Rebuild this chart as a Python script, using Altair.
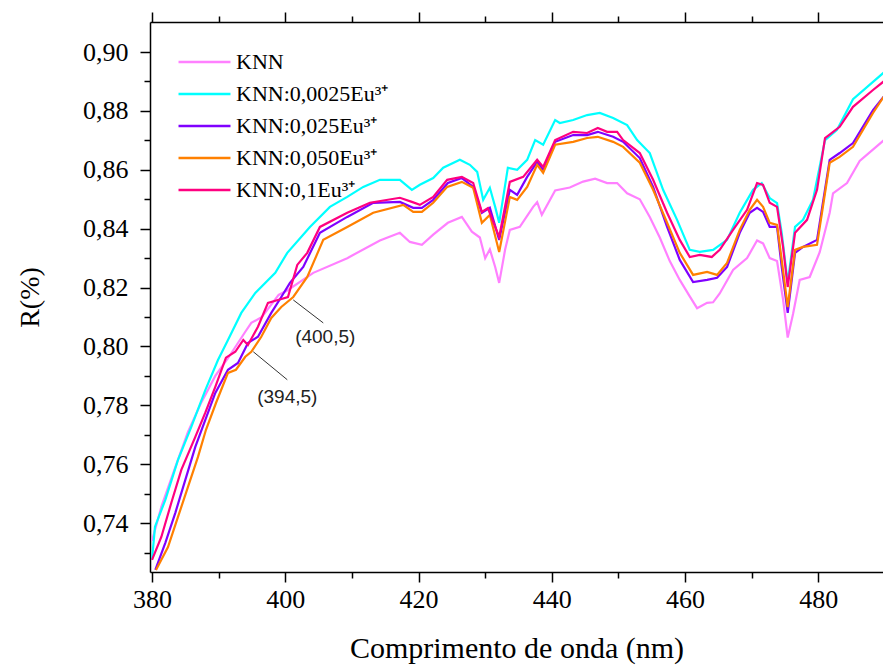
import altair as alt
import pandas as pd
import numpy as np

# ---------------- data ----------------
series_names = ["KNN", "KNN:0,0025Eu³⁺", "KNN:0,025Eu³⁺", "KNN:0,050Eu³⁺", "KNN:0,1Eu³⁺"]
series_colors = ["#FF80FF", "#00FFFF", "#8000FF", "#FF8000", "#FF0080"]

knn_nm = [380.0, 381.4, 383.5, 385.4, 387.4, 389.5, 391.4, 394.0, 394.9, 396.5, 399.0, 400.3, 404.2, 409.3,
          414.2, 417.2, 418.7, 420.5, 422.2, 424.4, 426.5, 428.0, 429.2, 430.0, 430.7, 431.5, 432.1, 433.0,
          433.7, 435.2, 437.2, 437.8, 438.5, 440.5, 442.7, 444.7, 446.5, 448.3, 449.8, 451.3, 453.2, 454.7,
          456.2, 457.7, 459.2, 460.7, 461.8, 463.3, 464.2, 465.2, 467.2, 469.3, 470.8, 471.7, 472.7, 473.8,
          474.7, 475.4, 476.2, 477.2, 478.7, 480.2, 481.7, 482.2, 484.3, 486.2, 489.8]
knn_r = [0.734, 0.7455, 0.759, 0.771, 0.781, 0.790, 0.796, 0.805, 0.808, 0.810, 0.8175, 0.819, 0.825, 0.830,
         0.836, 0.8386, 0.8355, 0.8345, 0.838, 0.842, 0.844, 0.839, 0.837, 0.830, 0.833, 0.827, 0.8216, 0.833,
         0.8396, 0.8406, 0.8474, 0.849, 0.8447, 0.853, 0.854, 0.856, 0.857, 0.8555, 0.8555, 0.852, 0.850, 0.844,
         0.837, 0.829, 0.8226, 0.817, 0.813, 0.8148, 0.815, 0.818, 0.826, 0.830, 0.836, 0.835, 0.830, 0.829,
         0.816, 0.803, 0.811, 0.8226, 0.8236, 0.832, 0.8454, 0.852, 0.8555, 0.863, 0.870]

eu0025_nm = [380.0, 380.45, 382.0, 383.9, 385.9, 388.0, 389.9, 391.4, 393.4, 395.5, 398.5, 400.3, 403.7, 406.7,
             409.3, 411.7, 414.2, 417.2, 419.0, 420.2, 422.2, 423.7, 426.2, 427.7, 428.8, 429.7, 430.7, 431.5,
             432.1, 433.4, 434.8, 436.3, 437.5, 438.7, 440.5, 441.2, 443.2, 445.3, 447.2, 449.2, 451.3, 452.8,
             454.7, 456.7, 458.8, 460.7, 462.2, 464.2, 466.3, 468.2, 470.2, 471.5, 472.7, 473.8, 474.5, 475.4,
             476.5, 477.7, 479.2, 481.0, 482.8, 485.2, 489.8]
eu0025_r = [0.7275, 0.7388, 0.7479, 0.7615, 0.7727, 0.7852, 0.7954, 0.8022, 0.8114, 0.8182, 0.8250, 0.8318,
            0.8406, 0.8474, 0.8508, 0.8542, 0.8566, 0.8566, 0.8532, 0.8549, 0.8572, 0.8607, 0.8634, 0.8617,
            0.8593, 0.8498, 0.8539, 0.8474, 0.8420, 0.8607, 0.8600, 0.8634, 0.8701, 0.8685, 0.8769, 0.8759,
            0.8769, 0.8786, 0.8793, 0.8776, 0.8752, 0.8701, 0.8657, 0.8532, 0.8430, 0.8328, 0.8321, 0.8328,
            0.8362, 0.8454, 0.8532, 0.8555, 0.8504, 0.8487, 0.8386, 0.8216, 0.8406, 0.8430, 0.8498, 0.8701,
            0.8736, 0.8840, 0.893]

eu025_nm = [380.5, 382.0, 383.5, 385.0, 386.5, 388.0, 389.5, 391.4, 392.9, 394.4, 395.9, 397.9, 399.4, 400.7,
            402.7, 405.2, 409.3, 413.2, 417.2, 419.2, 420.5, 422.2, 424.4, 426.5, 428.2, 429.5, 430.7, 432.1,
            433.7, 434.8, 436.3, 437.8, 438.7, 440.5, 443.2, 445.3, 446.9, 449.2, 450.7, 453.2, 455.2, 457.3,
            459.2, 461.2, 463.3, 464.8, 466.3, 468.2, 469.7, 470.8, 471.7, 472.7, 473.8, 474.5, 475.4, 476.5,
            477.7, 479.8, 481.7, 483.2, 485.2, 488.2, 489.8]
eu025_r = [0.7241, 0.7333, 0.7435, 0.7547, 0.7659, 0.7751, 0.7842, 0.7921, 0.7944, 0.8012, 0.8033, 0.8114,
           0.8168, 0.8216, 0.8270, 0.8386, 0.8440, 0.8488, 0.8491, 0.8471, 0.8471, 0.8498, 0.8555, 0.8572,
           0.8542, 0.8454, 0.8471, 0.8362, 0.8532, 0.8515, 0.8576, 0.8627, 0.8600, 0.8695, 0.8718, 0.8718,
           0.8729, 0.8712, 0.8695, 0.8640, 0.8542, 0.8406, 0.8294, 0.8219, 0.8226, 0.8233, 0.8270, 0.8386,
           0.8454, 0.8471, 0.8457, 0.8406, 0.8406, 0.8270, 0.8114, 0.8318, 0.8338, 0.8362, 0.8634, 0.8657,
           0.8691, 0.8803, 0.8848]

eu050_nm = [380.6, 382.4, 383.9, 385.4, 386.9, 388.1, 389.6, 391.4, 392.6, 394.0, 394.9, 396.4, 397.9, 399.4,
            401.2, 403.3, 405.7, 409.3, 413.2, 417.7, 419.2, 420.5, 422.2, 424.3, 426.5, 428.2, 429.5, 430.7,
            432.1, 433.7, 434.8, 436.3, 437.8, 438.7, 440.5, 443.2, 445.3, 446.9, 449.2, 450.7, 453.2, 455.2,
            457.3, 459.2, 461.2, 463.3, 464.8, 466.3, 468.2, 469.7, 470.8, 471.7, 472.7, 473.8, 474.5, 475.4,
            476.5, 477.7, 479.8, 481.7, 483.2, 485.2, 488.2, 489.8]
eu050_r = [0.7241, 0.7319, 0.7421, 0.7523, 0.7625, 0.7717, 0.7808, 0.7910, 0.7921, 0.7965, 0.7982, 0.8033,
           0.8097, 0.8134, 0.8168, 0.8236, 0.8362, 0.8406, 0.8454, 0.8481, 0.8457, 0.8457, 0.8488, 0.8542,
           0.8559, 0.8539, 0.8420, 0.8447, 0.8321, 0.8508, 0.8498, 0.8542, 0.8617, 0.8590, 0.8685, 0.8695,
           0.8708, 0.8712, 0.8695, 0.8678, 0.8624, 0.8532, 0.8420, 0.8318, 0.8243, 0.8253, 0.8243, 0.8284,
           0.8396, 0.8464, 0.8498, 0.8474, 0.8420, 0.8413, 0.8294, 0.8134, 0.8328, 0.8338, 0.8345, 0.8624,
           0.8644, 0.8678, 0.8793, 0.8848]

eu1_nm = [380.0, 381.4, 382.9, 384.4, 386.5, 388.0, 389.5, 391.1, 392.5, 393.7, 394.4, 395.9, 397.4, 398.9,
          400.4, 401.8, 403.3, 405.2, 409.3, 412.7, 417.2, 419.0, 420.2, 422.2, 424.3, 426.5, 428.2, 429.5,
          430.4, 431.5, 432.1, 433.7, 435.7, 437.8, 438.7, 440.5, 443.2, 445.3, 446.9, 448.3, 449.8, 450.7,
          453.2, 455.2, 457.3, 459.2, 460.7, 462.2, 464.0, 465.2, 467.2, 469.3, 470.8, 471.7, 472.7, 473.8,
          474.7, 475.4, 476.5, 478.3, 479.8, 481.0, 483.2, 485.2, 488.2, 489.8]
eu1_r = [0.7275, 0.7353, 0.7469, 0.7581, 0.7693, 0.7775, 0.7863, 0.7962, 0.7982, 0.8022, 0.8005, 0.8067,
         0.8148, 0.8158, 0.8168, 0.8277, 0.8318, 0.8406, 0.8454, 0.8488, 0.8505, 0.8491, 0.8481, 0.8508,
         0.8566, 0.8576, 0.8555, 0.8457, 0.8470, 0.8406, 0.8372, 0.8559, 0.8576, 0.8634, 0.8610, 0.8701,
         0.8729, 0.8725, 0.8742, 0.8729, 0.8729, 0.8701, 0.8657, 0.8566, 0.8454, 0.8362, 0.8304, 0.8311,
         0.8304, 0.8328, 0.8396, 0.8464, 0.8555, 0.8549, 0.8488, 0.8474, 0.8338, 0.8202, 0.8386, 0.8430,
         0.8532, 0.8708, 0.8746, 0.8814, 0.8871, 0.890]

# annotations (data units)
ann_text = ["(400,5)", "(394,5)"]
ann_nm = [406.0, 400.3]
ann_r = [0.8032, 0.7829]
lead_nm = [401.2, 395.2]
lead_r = [0.8158, 0.7982]
lead_nm2 = [405.7, 400.3]
lead_r2 = [0.8080, 0.7887]

x_ticks = list(range(380, 490, 10))
y_ticks = [round(v, 2) for v in np.arange(0.73, 0.905, 0.01)]

# ---------------- build table ----------------
pairs = [(knn_nm, knn_r), (eu0025_nm, eu0025_r), (eu025_nm, eu025_r), (eu050_nm, eu050_r), (eu1_nm, eu1_r)]
rows = []
for i, (name, (xs, ys)) in enumerate(zip(series_names, pairs)):
    assert len(xs) == len(ys), (name, len(xs), len(ys))
    for j, (a, b) in enumerate(zip(xs, ys)):
        rows.append({"series": name, "nm": a, "R": b, "k": i, "j": j})
df = pd.DataFrame(rows)

ann_df = pd.DataFrame({"t": ann_text, "nm": ann_nm, "R": ann_r})
lead_df = pd.DataFrame({"nm": lead_nm, "R": lead_r, "nm2": lead_nm2, "R2": lead_r2})

XD = [379.7, 489.7]
YD = [0.7234, 0.9102]
xscale = alt.Scale(domain=XD, nice=False, zero=False)
yscale = alt.Scale(domain=YD, nice=False, zero=False)

SERIF = "Liberation Serif"
x_tick_size = {"condition": {"test": "datum.value % 20 == 0", "value": 10}, "value": 6}
y_tick_size = {"condition": {"test": "round(datum.value * 100) % 2 == 0", "value": 10}, "value": 6}

lines = alt.Chart(df).mark_line(strokeWidth=2.2, clip=True).encode(
    x=alt.X("nm:Q", scale=xscale,
            axis=alt.Axis(orient="bottom", values=x_ticks, tickSize=x_tick_size,
                          labelExpr="datum.value % 20 == 0 ? datum.label : ''",
                          title="Comprimento de onda (nm)", titleFont=SERIF, titleFontSize=30,
                          titleFontWeight="normal", titleColor="black", titlePadding=21,
                          labelFont=SERIF, labelFontSize=26, labelColor="black", labelPadding=4,
                          labelFlush=False, grid=False, domainColor="black", domainWidth=1.5,
                          tickColor="black", tickWidth=1.5)),
    y=alt.Y("R:Q", scale=yscale,
            axis=alt.Axis(orient="left", values=y_ticks, tickSize=y_tick_size,
                          labelExpr="round(datum.value * 100) % 2 == 0 ? replace(format(datum.value, '.2f'), '.', ',') : ''",
                          title="R(%)", titleFont=SERIF, titleFontSize=28, titleFontWeight="normal",
                          titleColor="black", titlePadding=38,
                          labelFont=SERIF, labelFontSize=26, labelColor="black", labelPadding=12,
                          labelFlush=False, grid=False, domainColor="black", domainWidth=1.5,
                          tickColor="black", tickWidth=1.5)),
    color=alt.Color("series:N", sort=series_names,
                    scale=alt.Scale(domain=series_names, range=series_colors),
                    legend=alt.Legend(title=None, orient="none", legendX=27, legendY=27,
                                      symbolType="stroke", symbolSize=2700, symbolStrokeWidth=2.5,
                                      clipHeight=26, rowPadding=6, labelOffset=4,
                                      labelFont=SERIF, labelFontSize=22, labelColor="black",
                                      labelLimit=400)),
    order=alt.Order("j:Q"),
    detail="k:N",
)

top_axis = alt.Chart(df).mark_point(opacity=0).encode(
    x=alt.X("nm:Q", scale=xscale,
            axis=alt.Axis(orient="top", values=x_ticks, tickSize=x_tick_size, labels=False, title=None,
                          grid=False, domainColor="black", domainWidth=1.5, tickColor="black",
                          tickWidth=1.5)),
    y=alt.Y("R:Q", scale=yscale, axis=None),
)

leaders = alt.Chart(lead_df).mark_rule(color="#333333", strokeWidth=1).encode(
    x=alt.X("nm:Q", scale=xscale, axis=None),
    x2="nm2:Q",
    y=alt.Y("R:Q", scale=yscale, axis=None),
    y2="R2:Q",
)

labels = alt.Chart(ann_df).mark_text(font="Liberation Sans", fontSize=19, color="#222222").encode(
    x=alt.X("nm:Q", scale=xscale, axis=None),
    y=alt.Y("R:Q", scale=yscale, axis=None),
    text="t:N",
)

chart = alt.layer(lines, top_axis, leaders, labels).resolve_axis(
    x="independent", y="independent"
).properties(
    width=733, height=550,
    padding={"left": 150, "top": 22, "right": 0, "bottom": 95},
    autosize=alt.AutoSizeParams(type="none"),
).configure_view(strokeWidth=0).configure(background="white")

chart.save("out.html", embed_options={"renderer": "svg", "actions": False})
